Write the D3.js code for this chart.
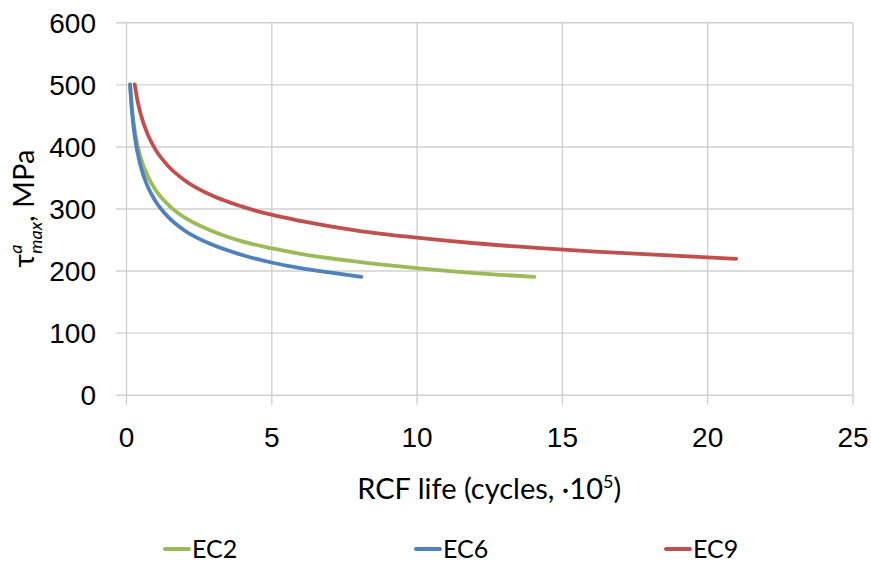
<!DOCTYPE html>
<html>
<head>
<meta charset="utf-8">
<script src="https://cdn.jsdelivr.net/npm/d3@7"></script>
<style>
  html, body { margin: 0; padding: 0; background: #fff; }
  svg { display: block; font-family: Lato, "Open Sans", sans-serif; }
</style>
</head>
<body>
<svg id="chart" width="871" height="562"></svg>
<script>
// RCF life (cycles, x10^5) versus amplitude of max shear stress (MPa)
const seriesNames = ["EC2", "EC6", "EC9"];
const seriesColors = ["#9BBB59", "#4F81BD", "#C0504D"];

const ec2Life   = [0.14, 0.2, 0.3, 0.5, 0.75, 1, 1.5, 2, 3, 4, 5, 6, 8, 10, 12, 14.05];
const ec2Stress = [500, 464, 426, 383, 352, 331, 304, 286, 263, 247, 236, 227, 214, 204, 196, 190];

const ec6Life   = [0.14, 0.2, 0.3, 0.5, 0.75, 1, 1.5, 2, 3, 4, 5, 6, 7, 8.1];
const ec6Stress = [500, 459, 417, 369, 335, 313, 284, 265, 241, 225, 213, 204, 197, 190];

const ec9Life   = [0.3, 0.4, 0.5, 0.75, 1, 1.5, 2, 3, 4, 5, 6, 8, 10, 12, 14, 16, 18, 21];
const ec9Stress = [500, 473, 453, 419, 396, 366, 346, 320, 303, 290, 280, 264, 253, 244, 237, 231, 226, 219];

const xTicks = [0, 5, 10, 15, 20, 25];
const yTicks = [0, 100, 200, 300, 400, 500, 600];

const series = [
  { name: seriesNames[0], color: seriesColors[0], x: ec2Life, y: ec2Stress },
  { name: seriesNames[1], color: seriesColors[1], x: ec6Life, y: ec6Stress },
  { name: seriesNames[2], color: seriesColors[2], x: ec9Life, y: ec9Stress }
];

const svg = d3.select("#chart");
const plot = { left: 126, right: 852.5, top: 22.3, bottom: 394.7 };

const x = d3.scaleLinear().domain([0, 25]).range([plot.left, plot.right]);
const y = d3.scaleLinear().domain([0, 600]).range([plot.bottom, plot.top]);

const gridColor = "#d0d0d0";
const tickOut = 10;
const tickFont = 28;
const titleFont = 29;
const legendFont = 25;

// horizontal gridlines with outside tick stubs
const yAxis = d3.axisLeft(y).tickValues(yTicks)
  .tickSize(0).tickSizeOuter(0).tickPadding(0)
  .tickFormat(d => d);
svg.append("g")
  .attr("transform", `translate(${plot.left - tickOut},0)`)
  .call(g => {
    g.call(yAxis);
    g.select(".domain").remove();
    g.selectAll(".tick line").attr("x1", 0).attr("x2", plot.right - plot.left + tickOut)
      .attr("stroke", gridColor).attr("stroke-width", 1.4);
    g.selectAll(".tick text")
      .attr("x", -20)
      .attr("fill", "#000").attr("font-size", tickFont)
      .attr("text-anchor", "end").attr("dy", "0.36em");
  });

// vertical gridlines with outside tick stubs
const xAxis = d3.axisBottom(x).tickValues(xTicks)
  .tickSize(-(plot.bottom - plot.top) - tickOut).tickSizeOuter(0).tickPadding(0)
  .tickFormat(d => d);
svg.append("g")
  .attr("transform", `translate(0,${plot.bottom + tickOut})`)
  .call(g => {
    g.call(xAxis);
    g.select(".domain").remove();
    g.selectAll(".tick line").attr("stroke", gridColor).attr("stroke-width", 1.4);
    g.selectAll(".tick text")
      .attr("y", 22)
      .attr("dy", "0.71em")
      .attr("fill", "#000").attr("font-size", tickFont);
  });

// curves
const line = d3.line()
  .x(d => x(d[0]))
  .y(d => y(d[1]))
  .curve(d3.curveMonotoneX);

svg.append("g").selectAll("path")
  .data(series)
  .join("path")
  .attr("d", s => line(s.x.map((v, i) => [v, s.y[i]])))
  .attr("fill", "none")
  .attr("stroke", s => s.color)
  .attr("stroke-width", 3.8)
  .attr("stroke-linecap", "round")
  .attr("stroke-linejoin", "round");

// x-axis title
const xTitle = svg.append("text")
  .attr("x", (plot.left + plot.right) / 2)
  .attr("y", 499)
  .attr("text-anchor", "middle")
  .attr("font-size", titleFont)
  .attr("fill", "#000");
xTitle.append("tspan").text("RCF life (cycles, \u00B710");
xTitle.append("tspan").attr("dy", -11).attr("font-size", 18).text("5");
xTitle.append("tspan").attr("dy", 11).text(")");

// y-axis title
const yTitle = svg.append("text")
  .attr("transform", `translate(34,${(plot.top + plot.bottom) / 2}) rotate(-90)`)
  .attr("text-anchor", "middle")
  .attr("font-size", titleFont)
  .attr("fill", "#000");
yTitle.append("tspan").text("\u03C4");
yTitle.append("tspan").attr("dy", -12).attr("font-size", 18).attr("font-style", "italic").text("a");
yTitle.append("tspan").attr("dx", -9).attr("dy", 20).attr("font-size", 18).attr("font-style", "italic").text("max");
yTitle.append("tspan").attr("dy", -8).text(", MPa");

// legend
const legendX = [165, 416, 666];
const legend = svg.append("g").selectAll("g")
  .data(series)
  .join("g")
  .attr("transform", (s, i) => `translate(${legendX[i]},549)`);
legend.append("line")
  .attr("x1", 0).attr("x2", 24)
  .attr("stroke", s => s.color)
  .attr("stroke-width", 4)
  .attr("stroke-linecap", "round");
legend.append("text")
  .attr("x", 27)
  .attr("dy", "0.36em")
  .attr("font-size", legendFont)
  .attr("fill", "#000")
  .text(s => s.name);
</script>
</body>
</html>
